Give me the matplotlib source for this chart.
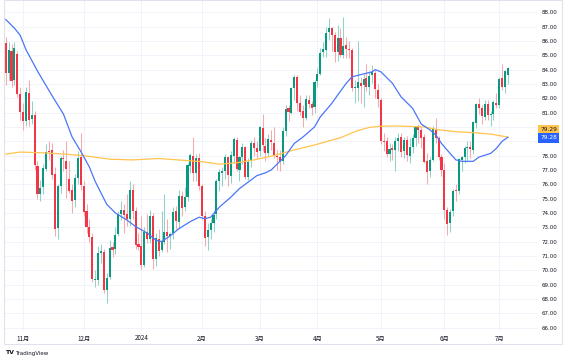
import numpy as np
import pandas as pd
import matplotlib
matplotlib.use("Agg")
import matplotlib.pyplot as plt
import matplotlib.patches as mpatches

# --- daily candles (WTI), 2023-10-24 .. 2024-07-05 ---
holidays = ["2023-11-23", "2023-12-25", "2024-01-01", "2024-01-15", "2024-02-19",
            "2024-03-29", "2024-05-27", "2024-06-19", "2024-07-04"]
dates = pd.bdate_range("2023-10-24", "2024-07-05")
dates = dates[~dates.isin(pd.to_datetime(holidays))]

opens = [85.85, 83.75, 85.30, 83.25, 85.10, 82.30,
         81.05, 80.45, 82.40, 80.55, 80.85, 77.30, 75.35, 75.80, 77.10, 78.35, 78.40, 76.70, 72.95, 75.90,
         77.85, 77.60, 76.40, 75.60, 74.90, 76.45, 77.90,
         75.90, 74.10, 73.00, 72.35, 69.30, 69.35, 71.20, 71.25, 68.65, 69.50, 71.60, 71.50, 72.50, 73.90,
         74.20, 73.90, 73.60, 75.60, 74.10, 71.80,
         71.70, 70.40, 72.70, 72.20, 73.80, 70.80, 72.20, 71.40, 72.00, 72.70, 72.40, 72.60, 74.10, 73.40,
         75.20, 74.40, 75.10, 77.30, 78.00, 76.80, 77.80,
         75.90, 73.80, 72.30, 72.80, 73.30, 73.90, 76.20, 76.80, 76.90, 77.90, 76.60, 78.00, 79.10, 77.00,
         77.90, 78.60, 76.50, 77.60, 78.90, 78.50,
         78.30, 79.90, 78.70, 78.20, 79.10, 78.90, 78.00, 77.90, 77.60, 79.70, 81.30, 81.00, 82.70, 83.50,
         81.70, 81.10, 80.60, 81.90, 81.60, 81.40,
         83.20, 83.70, 85.20, 85.40, 86.60, 86.90, 86.40, 85.20, 86.20, 85.00, 85.70, 85.40, 85.40, 82.70,
         82.70, 83.10, 82.90, 83.40, 82.80, 83.60, 83.80, 82.60,
         81.90, 79.00, 79.00, 78.10, 78.50, 78.40, 79.00, 79.30, 78.30, 79.10, 78.00, 78.60, 79.20, 80.10,
         79.80, 79.30, 77.60, 76.90, 77.70, 79.80, 79.20, 77.90,
         77.00, 74.20, 73.30, 74.10, 75.60, 75.50, 77.70, 77.90, 78.50, 78.60, 78.40, 80.30, 81.60, 81.30,
         80.70, 81.60, 80.80, 80.90, 81.70,
         81.50, 83.40, 82.80, 83.60]
highs = [86.30, 85.90, 85.80, 85.90, 85.30, 82.80,
         81.70, 82.80, 83.30, 81.80, 81.10, 77.60, 76.30, 77.40, 78.80, 79.00, 78.90, 77.20, 76.05, 78.00,
         78.40, 79.00, 77.60, 76.00, 76.70, 78.30, 79.60,
         76.20, 74.60, 73.60, 72.60, 70.00, 71.70, 71.80, 71.50, 69.80, 72.10, 72.00, 73.00, 74.10, 74.80,
         74.60, 75.30, 76.20, 76.00, 74.40, 72.60,
         73.80, 73.00, 73.90, 74.20, 74.00, 72.60, 72.90, 74.10, 75.30, 73.60, 72.70, 74.40, 74.50, 75.60,
         75.50, 75.80, 77.50, 78.20, 79.30, 78.10, 78.20,
         76.00, 74.10, 73.30, 73.60, 74.20, 76.40, 77.10, 77.20, 78.10, 78.00, 78.30, 79.30, 79.30, 78.00,
         78.90, 78.70, 77.80, 79.10, 79.30, 79.00,
         80.10, 80.90, 79.20, 79.50, 79.80, 80.00, 78.40, 78.40, 80.00, 81.50, 81.50, 82.80, 83.60, 83.60,
         82.20, 81.50, 82.20, 82.20, 81.80, 83.30,
         84.10, 85.50, 85.90, 87.00, 87.60, 87.00, 86.60, 87.10, 86.90, 87.67, 86.30, 86.00, 85.50, 83.30,
         86.00, 83.50, 83.70, 84.40, 83.90, 84.30, 84.00, 83.00,
         82.00, 79.60, 79.30, 78.90, 78.80, 79.30, 79.60, 79.60, 79.30, 79.40, 79.20, 79.50, 80.10, 80.20,
         80.00, 79.50, 78.20, 77.90, 80.10, 80.60, 79.40, 78.10,
         77.50, 74.40, 74.30, 75.70, 76.00, 77.80, 78.00, 78.70, 79.00, 79.00, 80.40, 81.70, 82.00, 81.50,
         81.90, 81.90, 81.10, 81.90, 82.40,
         83.50, 84.38, 84.00, 84.20]
lows = [82.90, 83.30, 82.80, 82.95, 82.10, 80.50,
        79.80, 80.10, 80.10, 80.20, 77.00, 74.95, 74.80, 75.30, 76.90, 77.70, 76.40, 72.40, 72.20, 75.40,
        76.95, 75.05, 75.40, 74.00, 74.40, 76.00, 75.60,
        73.80, 72.60, 72.00, 69.20, 68.80, 69.00, 70.50, 68.40, 67.71, 69.40, 70.90, 71.10, 72.40, 73.50,
        72.60, 73.10, 73.10, 73.60, 71.50, 71.40,
        70.10, 70.20, 71.90, 71.90, 70.10, 70.30, 71.00, 71.30, 71.80, 71.30, 71.50, 72.20, 72.90, 72.90,
        73.80, 74.10, 74.80, 76.80, 76.20, 76.20, 75.60,
        73.60, 71.70, 71.40, 72.20, 72.70, 73.60, 75.50, 75.90, 76.40, 75.90, 76.10, 77.50, 76.90, 76.20,
        77.40, 76.40, 76.30, 77.20, 78.00, 77.80,
        78.00, 78.30, 77.60, 78.00, 78.40, 77.80, 77.00, 76.90, 77.40, 79.40, 80.40, 80.90, 81.90, 81.10,
        80.80, 80.00, 80.50, 81.30, 80.80, 81.00,
        82.80, 83.60, 84.90, 84.90, 86.10, 85.30, 84.50, 84.60, 84.90, 84.80, 84.80, 84.80, 82.50, 81.70,
        81.80, 81.70, 81.40, 82.50, 82.20, 83.10, 82.00, 81.40,
        78.80, 78.30, 77.90, 77.60, 77.70, 76.90, 78.30, 77.90, 77.80, 77.60, 77.50, 78.20, 78.70, 78.90,
        78.50, 77.50, 76.00, 76.50, 77.60, 78.90, 77.70, 76.60,
        73.60, 72.48, 72.70, 73.80, 74.80, 75.30, 76.90, 77.50, 77.60, 77.80, 78.10, 79.90, 80.90, 80.20,
        80.50, 80.50, 80.10, 80.50, 81.30,
        81.30, 82.60, 82.40, 83.00]
closes = [83.74, 85.39, 83.21, 85.54, 82.31, 81.02,
          80.44, 82.46, 80.51, 80.82, 77.37, 75.33, 75.74, 77.17, 78.26, 78.26, 76.66, 72.90, 75.89, 77.83,
          77.77, 77.10, 75.54, 74.86, 76.41, 77.86, 75.96,
          74.07, 73.04, 72.32, 69.38, 69.34, 71.23, 71.32, 68.61, 69.47, 71.58, 71.43, 72.47, 73.94, 74.22,
          73.89, 73.56, 75.57, 74.11, 71.77, 71.65,
          70.38, 72.70, 72.19, 73.81, 70.77, 72.24, 71.37, 72.02, 72.68, 72.40, 72.56, 74.08, 73.41, 75.19,
          74.37, 75.09, 77.36, 78.01, 76.78, 77.82, 75.85,
          73.82, 72.28, 72.78, 73.31, 73.86, 76.22, 76.84, 76.92, 77.87, 76.64, 78.03, 79.19, 77.04, 77.91,
          78.61, 76.49, 77.58, 78.87, 78.54, 78.26,
          79.97, 78.74, 78.15, 79.13, 78.93, 78.01, 77.93, 77.56, 79.72, 81.26, 81.04, 82.72, 83.47, 81.68,
          81.07, 80.63, 81.95, 81.62, 81.35, 83.17,
          83.71, 85.15, 85.43, 86.59, 86.91, 86.43, 85.23, 86.21, 85.02, 85.66, 85.41, 85.36, 82.69, 82.73,
          83.14, 82.85, 83.36, 82.81, 83.57, 83.85, 82.63, 81.93,
          79.00, 78.95, 78.11, 78.48, 78.38, 78.99, 79.26, 78.26, 79.12, 78.02, 78.63, 79.23, 80.06, 79.80,
          79.26, 77.57, 76.87, 77.72, 79.83, 79.23, 77.91, 76.99,
          74.22, 73.25, 74.07, 75.55, 75.53, 77.74, 77.90, 78.50, 78.62, 78.45, 80.33, 81.57, 81.29, 80.73,
          81.63, 80.83, 80.90, 81.74, 81.54,
          83.38, 82.81, 83.88, 84.10]

# moving averages (candle index, value)
ma_fast_idx = [0, 3, 5, 7, 11, 16, 20, 23, 26, 29, 31, 35, 38, 42, 45, 49, 52, 54, 57, 60, 64, 67, 69,
               71, 74, 78, 81, 85, 87, 90, 92, 95, 97, 100, 103, 107, 109, 113, 116, 118, 120, 122, 125,
               127, 128, 130, 134, 137, 141, 144, 147, 149, 151, 154, 156, 158, 162, 164, 168, 170, 172, 174]
ma_fast = [87.5, 86.9, 86.4, 85.4, 83.9, 82.2, 80.9, 79.3, 78.3, 77.2, 76.2, 74.6, 74.0, 73.5, 73.05,
           72.6, 72.1, 72.0, 72.4, 72.9, 73.4, 73.7, 73.6, 73.7, 74.4, 75.1, 75.7, 76.3, 76.6, 76.8, 77.0,
           77.6, 78.0, 78.85, 79.3, 80.0, 80.7, 81.65, 82.5, 83.05, 83.5, 83.6, 83.75, 83.85, 84.0, 83.85,
           83.05, 82.1, 81.3, 80.2, 79.8, 79.45, 78.85, 78.15, 77.7, 77.6, 77.6, 77.9, 78.15, 78.5, 79.0, 79.28]
ma_slow_idx = [0, 5, 12, 21, 28, 36, 44, 53, 63, 68, 74, 80, 86, 93, 100, 107, 116, 122, 126, 130, 136,
               145, 150, 156, 162, 168, 174]
ma_slow = [78.1, 78.25, 78.2, 78.1, 77.97, 77.75, 77.7, 77.8, 77.65, 77.58, 77.4, 77.5, 77.7, 78.0, 78.4,
           78.74, 79.25, 79.75, 79.97, 80.05, 80.07, 80.0, 79.8, 79.67, 79.6, 79.5, 79.3]
ma_slow_last, ma_fast_last = "79.29", "79.28"

month_labels = ["11月", "12月", "2024", "2月", "3月", "4月", "5月", "6月", "7月"]
price_ticks = list(range(66, 89))
hidden_ticks = [79, 80]  # covered by the MA value tags

UP, DOWN = "#089981", "#f23645"
UP_WICK, DOWN_WICK = "#93d3c7", "#f8a9b0"

o = np.array(opens); h = np.array(highs); l = np.array(lows); c = np.array(closes)
idx = np.arange(len(c))
up = c >= o

fig = plt.figure(figsize=(5.7, 3.61), dpi=100)
ax = fig.add_axes([4 / 570, 30 / 361, 533 / 570, 331 / 361])

# grid
for p in price_ticks + [89]:
    ax.axhline(p, color="#f0f3fa", lw=0.7, zorder=0)
month_pos = [idx[(dates.month == d.month) & (dates.year == d.year)][0]
             for d in pd.date_range("2023-11-01", "2024-07-01", freq="MS")]
for m in month_pos:
    ax.axvline(m, color="#f0f3fa", lw=0.7, zorder=0)

# candles
ax.vlines(idx, l, h, colors=np.where(up, UP_WICK, DOWN_WICK), lw=0.75, zorder=2)
ax.bar(idx, np.maximum(np.abs(c - o), 0.07), bottom=np.minimum(o, c), width=0.72,
       color=np.where(up, UP, DOWN), linewidth=0, zorder=3)

# moving averages
ax.plot(ma_slow_idx, ma_slow, color="#ffc44d", lw=0.9, zorder=4)
ax.plot(ma_fast_idx, ma_fast, color="#4a76f7", lw=0.9, zorder=4)

ax.set_xlim(-0.6, 184.1)
ax.set_ylim(65.76, 88.86)
for s in ax.spines.values():
    s.set_visible(False)

ax.yaxis.tick_right()
ax.set_yticks(price_ticks)
ax.set_yticklabels(["" if p in hidden_ticks else f"{p:.2f}" for p in price_ticks])
ax.tick_params(axis="y", length=0, pad=3, labelsize=4, labelcolor="#131722")
ax.set_xticks(month_pos)
ax.set_xticklabels(month_labels, family=["Noto Sans CJK JP", "DejaVu Sans"])
ax.tick_params(axis="x", length=0, pad=2.5, labelsize=4.5, labelcolor="#131722")

# last-value tags of the averages
ax.annotate(ma_slow_last, (1, ma_slow[-1]), xycoords=("axes fraction", "data"),
            xytext=(2.2, 5.6), textcoords="offset points", ha="left", va="center", fontsize=4.2,
            color="#131722", annotation_clip=False, zorder=6,
            bbox=dict(boxstyle="square,pad=0.35", fc="#ffc44d", ec="none"))
ax.annotate(ma_fast_last, (1, ma_fast[-1]), xycoords=("axes fraction", "data"),
            xytext=(2.2, -0.5), textcoords="offset points", ha="left", va="center", fontsize=4.2,
            color="white", annotation_clip=False, zorder=6,
            bbox=dict(boxstyle="square,pad=0.35", fc="#2962ff", ec="none"))

# outer frame and logo
fig.add_artist(mpatches.Rectangle((4 / 570, 17 / 361), 558 / 570, 344 / 361,
                                  transform=fig.transFigure, fill=False, ec="#e0e3eb", lw=0.8))
fig.text(5 / 570, 8 / 361, "TV", fontsize=4.5, fontweight="bold", color="#131722", va="center")
fig.text(15 / 570, 8 / 361, "TradingView", fontsize=4, color="#131722", va="center")

fig.savefig("out.png", dpi=100, facecolor="white")
